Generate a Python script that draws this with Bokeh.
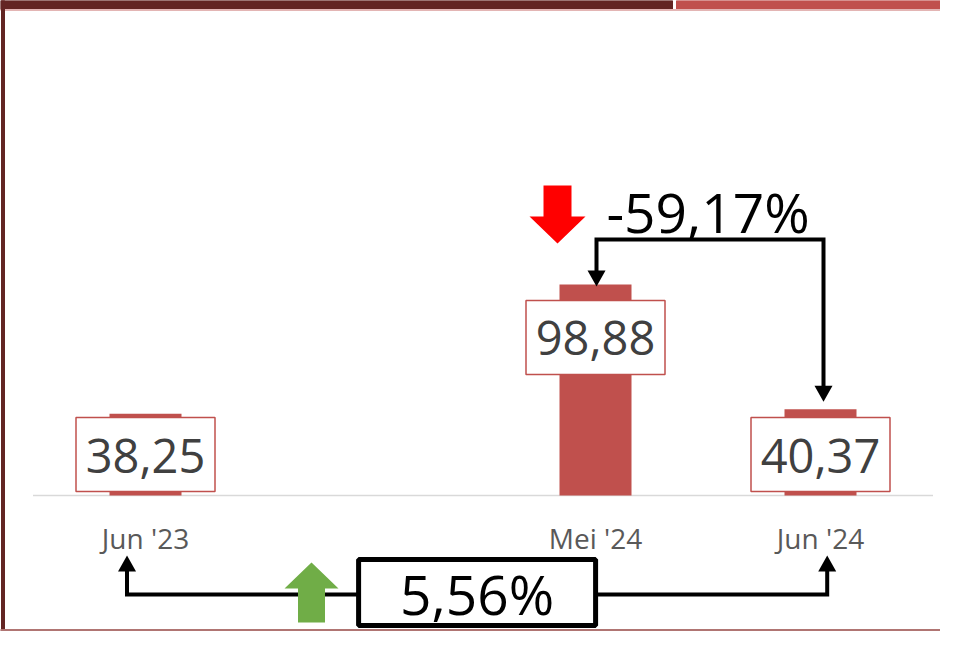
import math
from bokeh.plotting import figure
from bokeh.models import Range1d
from bokeh.core.properties import value
from bokeh.embed import file_html
from bokeh.resources import INLINE

# ---- data ----
categories = ["Jun '23", "", "Mei '24", "Jun '24"]
values = [38.25, float("nan"), 98.88, 40.37]
change_top = "-59,17%"      # Mei '24 -> Jun '24
change_bottom = "5,56%"     # Jun '23 -> Jun '24

# ---- layout constants ----
W, H = 940, 631
STEP = 225.0     # px per category slot
PPU = 2.134      # px per value unit
X0 = 145         # figure px of slot 0 centre
BASE = 495       # figure px (from top) of the zero line
FONT = value("Open Sans")

p = figure(width=W, height=H, output_backend="svg", toolbar_location=None,
           x_range=Range1d(-X0 / STEP, (W - X0) / STEP),
           y_range=Range1d(-(H - BASE) / PPU, BASE / PPU),
           x_axis_type=None, y_axis_type=None, min_border=0,
           outline_line_color=None)
p.grid.visible = False
p.background_fill_color = "white"
p.border_fill_color = "white"


def X(i, dx=0.0):
    return i + dx / STEP


def Y(v, dy=0.0):
    return v + dy / PPU


def fx(px):
    return X(0, px - X0)


def fy(px):
    return (BASE - px) / PPU


n = len(categories)
xs = list(range(n))
first, prev, last = 0, n - 2, n - 1

# ---- decorations (frame bands) ----
p.quad(left=fx(0), right=fx(672), top=fy(0), bottom=fy(9), color="#632523")
p.quad(left=fx(676), right=fx(W), top=fy(0), bottom=fy(9), color="#C0504D")
p.quad(left=fx(0), right=fx(W), top=fy(9), bottom=fy(10), color="#E3B5B4")
p.quad(left=fx(1), right=fx(4), top=fy(0), bottom=fy(H), color="#632523")
p.quad(left=fx(0), right=fx(W), top=fy(H - 2), bottom=fy(H), color="#B07573")

# ---- baseline and bars ----
p.segment(x0=[-0.5], y0=[0], x1=[n - 0.5], y1=[0], line_color="#D9D9D9", line_width=1.5)
p.vbar(x=xs, top=values, bottom=0, width=72 / STEP, fill_color="#C0504D", line_color=None)

# ---- value labels ----
BW, BH = 139, 74
lx, ly, ty, lt = [], [], [], []
for i, v in enumerate(values):
    if math.isnan(v):
        continue
    cy = max(Y(v, -(16 + BH / 2)), Y(0, 4 + BH / 2))
    lx.append(i)
    ly.append(cy)
    ty.append(Y(cy, -1))
    lt.append(f"{v:.2f}".replace(".", ","))
p.rect(x=lx, y=ly, width=BW, height=BH, width_units="screen", height_units="screen",
       fill_color="white", line_color="#C0504D", line_width=1.5)
p.text(x=lx, y=ty, text=lt, text_align="center", text_baseline="middle",
       text_font=FONT, text_font_size="47px", text_color="#404040")

# ---- category labels ----
p.text(x=xs, y=[Y(0, -42.7)] * n, text=categories, text_align="center",
       text_baseline="middle", text_font=FONT, text_font_size="28px",
       text_color="#595959")


def head(x, tip, up):
    s = 1 if up else -1
    return ([X(x, -9), X(x, 9), x], [Y(tip, -s * 16), Y(tip, -s * 16), tip])


# ---- top connector: Mei '24 -> Jun '24 ----
yh = Y(max(values[prev], values[last]), 45)
xl_t, xr_t = X(prev, 1), X(last, 3)
tip_l = Y(values[prev], -2)
tip_r = Y(values[last], 7.5)
p.line([xl_t, xl_t, xr_t, xr_t], [Y(tip_l, 15), yh, yh, Y(tip_r, 15)],
       line_color="black", line_width=4, line_join="miter")
hx1, hy1 = head(xl_t, tip_l, up=False)
hx2, hy2 = head(xr_t, tip_r, up=False)
p.patches([hx1, hx2], [hy1, hy2], fill_color="black", line_color=None)
p.text(x=[(prev + last) / 2], y=[Y(yh, 28)], text=[change_top], text_align="center",
       text_baseline="middle", text_font=FONT, text_font_size="55px",
       text_color="black")

# red down arrow
rc = X(prev, -38)
rt = Y(yh, -4)
r_dx = [-14, 14, 14, 28, 0, -28, -14]
r_dy = [58, 58, 27, 27, 0, 27, 27]
p.patch([X(rc, d) for d in r_dx], [Y(rt, d) for d in r_dy],
        fill_color="#FF0000", line_color=None)

# ---- bottom connector: Jun '23 -> Jun '24 ----
yb = Y(0, -99)
xl_b, xr_b = X(first, -18.5), X(last, 6.7)
tip_b = Y(0, -60)
p.line([xl_b, xl_b, xr_b, xr_b], [Y(tip_b, -15), yb, yb, Y(tip_b, -15)],
       line_color="black", line_width=4, line_join="miter")
hx3, hy3 = head(xl_b, tip_b, up=True)
hx4, hy4 = head(xr_b, tip_b, up=True)
p.patches([hx3, hx4], [hy3, hy4], fill_color="black", line_color=None)

xc = (xl_b + xr_b) / 2
p.rect(x=[xc], y=[Y(0, -97)], width=237, height=66, width_units="screen",
       height_units="screen", fill_color="white", line_color="black", line_width=5)
p.text(x=[xc], y=[Y(0, -98)], text=[change_bottom], text_align="center",
       text_baseline="middle", text_font=FONT, text_font_size="55px",
       text_color="black")

# green up arrow
gc = X(xc, -165.6)
gt = Y(0, -67)
g_dx = [-13.5, 13.5, 13.5, 27, 0, -27, -13.5]
g_dy = [-60, -60, -26, -26, 0, -26, -26]
p.patch([X(gc, d) for d in g_dx], [Y(gt, d) for d in g_dy],
        fill_color="#70AD47", line_color=None)

open("out.html", "w").write(file_html(p, INLINE))
